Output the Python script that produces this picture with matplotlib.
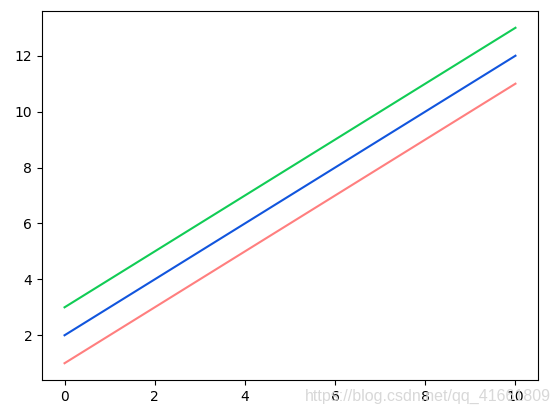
import matplotlib
matplotlib.use('Agg')
import matplotlib.pyplot as plt

x = [0, 1, 2, 3, 4, 5, 6, 7, 8, 9, 10]
y_red = [1, 2, 3, 4, 5, 6, 7, 8, 9, 10, 11]
y_blue = [2, 3, 4, 5, 6, 7, 8, 9, 10, 11, 12]
y_green = [3, 4, 5, 6, 7, 8, 9, 10, 11, 12, 13]

fig = plt.figure(figsize=(5.58, 4.11), dpi=100)
ax = fig.add_axes([42 / 558, 1 - 380 / 411, 496 / 558, 369 / 411])

ax.plot(x, y_red, color='#ff7f7f')
ax.plot(x, y_blue, color='#1155dd')
ax.plot(x, y_green, color='#11cc55')

# watermark
fig.text(305 / 558, 1 - 396 / 411, 'https://blog.csdn.net/qq_41661809', color='#d8d8d8',
         fontsize=11.5, family='Liberation Sans', ha='left', va='center')

fig.savefig('out.png', dpi=100)
